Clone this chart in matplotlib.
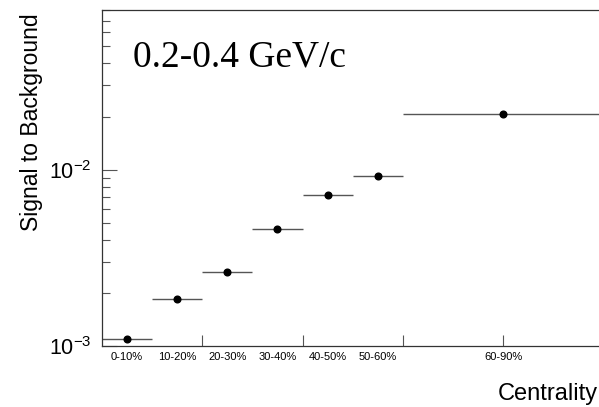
import numpy as np
import matplotlib
matplotlib.use("Agg")
import matplotlib.pyplot as plt
from matplotlib.ticker import LogLocator, FixedLocator, NullFormatter

plt.rcParams['font.family'] = ['Liberation Sans', 'DejaVu Sans']
plt.rcParams['mathtext.fontset'] = 'custom'
plt.rcParams['mathtext.rm'] = 'Liberation Sans'
plt.rcParams['mathtext.it'] = 'Liberation Sans:italic'
plt.rcParams['mathtext.default'] = 'regular'

# centrality bins (edges in %) and signal/background values
bin_edges = [0, 10, 20, 30, 40, 50, 60, 100]
bin_labels = ['0-10%', '10-20%', '20-30%', '30-40%', '40-50%', '50-60%', '60-90%']
sig_bkg = [1.10e-3, 1.85e-3, 2.64e-3, 4.58e-3, 7.16e-3, 9.17e-3, 2.06e-2]

edges = np.array(bin_edges, dtype=float)
centers = 0.5*(edges[1:] + edges[:-1])
half_w = 0.5*(edges[1:] - edges[:-1])

fig = plt.figure(figsize=(5.99, 4.07), dpi=100)
ax = fig.add_axes([101.7/599, 1 - 346/407, 502/599, 335.7/407])

axcol = '#333333'
ax.errorbar(centers, sig_bkg, xerr=half_w, fmt='o', color='black',
            ecolor='#555555', elinewidth=1.0, ms=4.8, capsize=0)

ax.set_yscale('log')
ax.set_xlim(0, 100)
ax.set_ylim(1e-3, 0.08)

for s in ax.spines.values():
    s.set_color(axcol)
    s.set_linewidth(0.9)

# y axis
ax.yaxis.set_major_locator(FixedLocator([1e-3, 1e-2]))
ax.set_yticklabels([r'$10^{-3}$', r'$10^{-2}$'], fontsize=15.5)
ax.yaxis.set_minor_locator(LogLocator(base=10, subs=np.arange(2, 10)))
ax.yaxis.set_minor_formatter(NullFormatter())
ax.tick_params(axis='y', which='major', direction='in', length=10.8,
               width=0.8, color='#555555', pad=7)
ax.tick_params(axis='y', which='minor', direction='in', length=5.8,
               width=0.8, color='#555555')

# x axis: ticks every 20, bin labels at bin centres (minor ticks)
ax.xaxis.remove_overlapping_locs = False  # keep the 60-90% label at x=80
ax.xaxis.set_major_locator(FixedLocator([20, 40, 60, 80]))
ax.xaxis.set_major_formatter(NullFormatter())
ax.xaxis.set_minor_locator(FixedLocator(centers))
ax.set_xticklabels(bin_labels, minor=True, fontsize=8)
ax.tick_params(axis='x', which='major', direction='in', length=8,
               width=0.8, color='#555555')
ax.tick_params(axis='x', which='minor', length=0, pad=4.5)

ax.text(0.062, 0.834, '0.2-0.4 GeV/c', transform=ax.transAxes,
        family='Liberation Serif', fontsize=27, va='baseline')

fig.text(32/599, 1 - 13/407, 'Signal to Background', rotation=90,
         ha='center', va='top', fontsize=16.5)
fig.text(598/599, 1 - 400/407, 'Centrality', ha='right', va='baseline',
         fontsize=17)

fig.savefig('out.png', dpi=100)
